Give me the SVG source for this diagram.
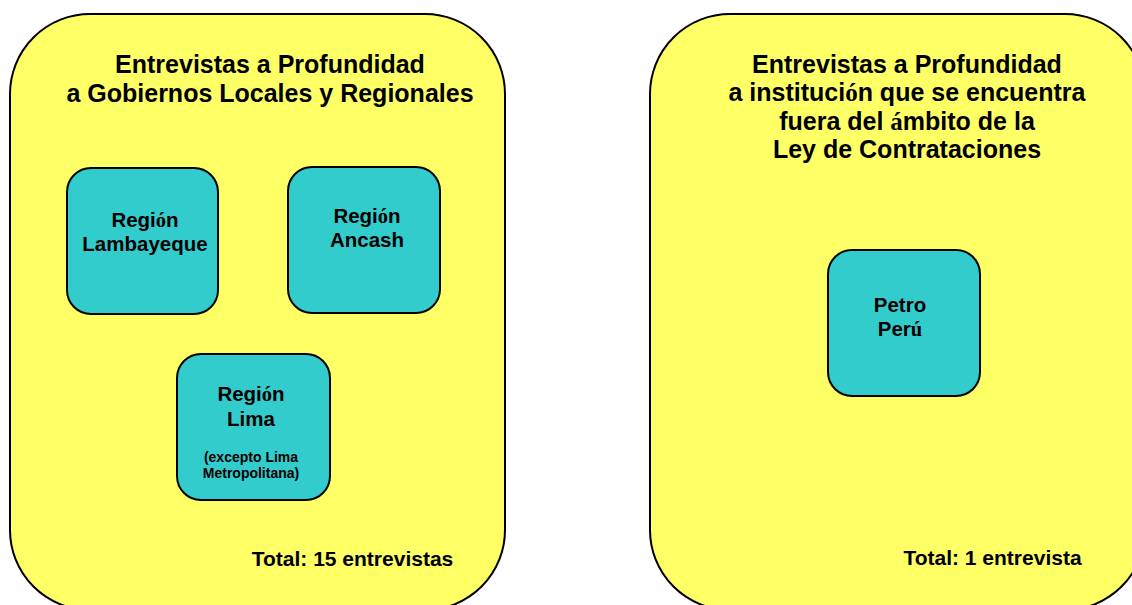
<svg xmlns="http://www.w3.org/2000/svg" width="1132" height="605" viewBox="0 0 1132 605">
<style>
.big{fill:#FFFF66;stroke:#000;stroke-width:2}
.node{fill:#33CCCC;stroke:#000;stroke-width:2}
text{font-family:"Liberation Sans",Arial,sans-serif;font-weight:bold;fill:#000;text-anchor:middle}
.t{font-size:25px}
.n{font-size:20.5px}
.s{font-size:14px}
.tot{font-size:21px}
.acc{font-family:"Liberation Serif","Times New Roman",serif}
</style>
<rect width="1132" height="605" fill="#fff"/>
<g id="group-left">
<rect class="big" x="10" y="14" width="495" height="596" rx="80" ry="80"/>
<text class="t" x="270" y="73">Entrevistas a Profundidad</text>
<text class="t" x="270" y="102">a Gobiernos Locales y Regionales</text>
<text class="tot" x="352.5" y="566">Total: 15 entrevistas</text>
</g>
<g id="group-right">
<rect class="big" x="650" y="14" width="495" height="596" rx="80" ry="80"/>
<text class="t" x="907" y="73">Entrevistas a Profundidad</text>
<text class="t" x="907" y="101">a instituci<tspan class="acc">ó</tspan>n que se encuentra</text>
<text class="t" x="907" y="130">fuera del <tspan class="acc">á</tspan>mbito de la</text>
<text class="t" x="907" y="158">Ley de Contrataciones</text>
<text class="tot" x="992.5" y="565">Total: 1 entrevista</text>
</g>
<g id="node-lambayeque">
<rect class="node" x="67" y="168" width="151" height="146" rx="24" ry="24"/>
<text class="n" x="145" y="227">Regi<tspan class="acc">ó</tspan>n</text>
<text class="n" x="145" y="251">Lambayeque</text>
</g>
<g id="node-ancash">
<rect class="node" x="288" y="167" width="152" height="146" rx="24" ry="24"/>
<text class="n" x="367" y="223">Regi<tspan class="acc">ó</tspan>n</text>
<text class="n" x="367" y="247">Ancash</text>
</g>
<g id="node-lima">
<rect class="node" x="177" y="354" width="153" height="146" rx="24" ry="24"/>
<text class="n" x="251" y="401">Regi<tspan class="acc">ó</tspan>n</text>
<text class="n" x="251" y="426">Lima</text>
<text class="s" x="251" y="462">(excepto Lima</text>
<text class="s" x="251" y="478">Metropolitana)</text>
</g>
<g id="node-petroperu">
<rect class="node" x="828" y="250" width="152" height="146" rx="24" ry="24"/>
<text class="n" x="900" y="312">Petro</text>
<text class="n" x="900" y="336">Per<tspan class="acc">ú</tspan></text>
</g>
<g id="connectors"></g>
</svg>
